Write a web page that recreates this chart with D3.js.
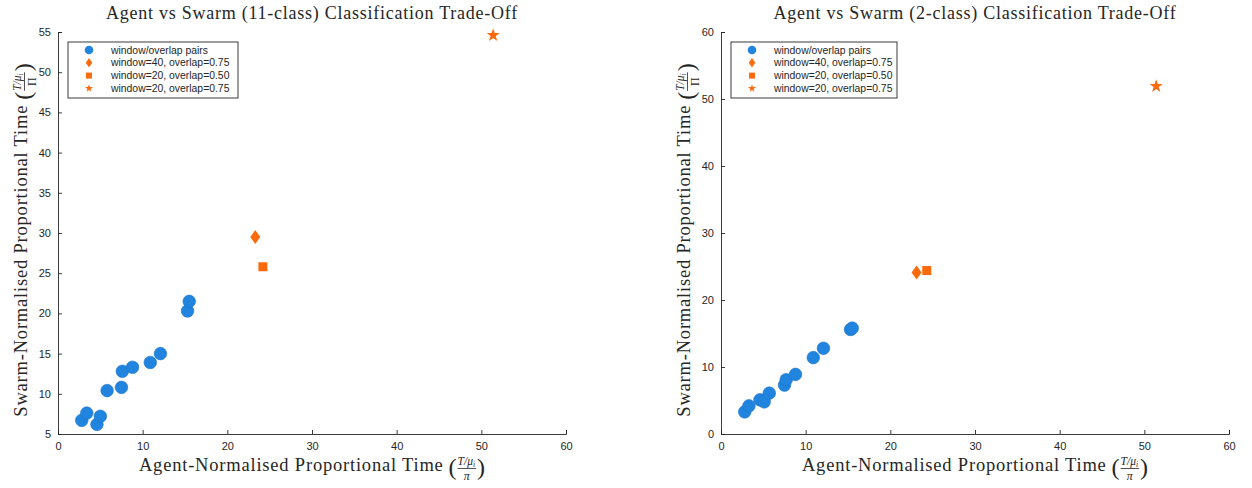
<!DOCTYPE html>
<html>
<head>
<meta charset="utf-8">
<script src="https://cdn.jsdelivr.net/npm/d3@7"></script>
<style>
  body { margin: 0; background: #fff; }
  svg { display: block; }
</style>
</head>
<body>
<svg id="chart" width="1252" height="488"></svg>
<script>
// ---- data ----
const xTicks = [0, 10, 20, 30, 40, 50, 60];
const yTicks11 = [5, 10, 15, 20, 25, 30, 35, 40, 45, 50, 55];
const yTicks2 = [0, 10, 20, 30, 40, 50, 60];

// 11-class: window/overlap pairs
const agent11 = [2.8, 3.4, 4.6, 5.0, 5.8, 7.5, 7.6, 8.8, 10.9, 12.1, 15.3, 15.5];
const swarm11 = [6.7, 7.6, 6.2, 7.2, 10.4, 10.8, 12.8, 13.3, 13.9, 15.0, 20.3, 21.5];
// 11-class: highlighted configurations (diamond, square, star)
const best11Agent = [23.3, 24.2, 51.4];
const best11Swarm = [29.5, 25.8, 54.6];

// 2-class
const agent2 = [2.8, 3.3, 4.6, 5.1, 5.7, 7.5, 7.7, 8.8, 10.9, 12.1, 15.3, 15.5];
const swarm2 = [3.3, 4.2, 5.1, 4.8, 6.1, 7.3, 8.1, 8.9, 11.4, 12.8, 15.6, 15.8];
const best2Agent = [23.1, 24.3, 51.4];
const best2Swarm = [24.1, 24.4, 51.9];

const legendLabels = ['window/overlap pairs', 'window=40, overlap=0.75',
  'window=20, overlap=0.50', 'window=20, overlap=0.75'];

const blue = '#2185e0';
const orange = '#fb6a0c';
const axisCol = '#262626';

const svg = d3.select('#chart');

// marker shapes
const diamond = (w, h) => `M0,${-h / 2}L${w / 2},0L0,${h / 2}L${-w / 2},0Z`;
const square = s => `M${-s / 2},${-s / 2}h${s}v${s}h${-s}Z`;
const star = size => d3.symbol(d3.symbolStar, size)();

// axis label: text followed by a small fraction ( T/mu_i over denom )
function fracLabel(g, txt, denom) {
  const t = g.append('text')
    .attr('font-family', 'Liberation Serif, serif')
    .attr('font-size', 18.5)
    .attr('letter-spacing', 0.8)
    .attr('fill', axisCol)
    .text(txt);
  let w = t.node().getComputedTextLength();
  const paren = (x, s) => g.append('text')
    .attr('x', x).attr('y', 4)
    .attr('font-family', 'Liberation Serif, serif')
    .attr('font-size', 24).attr('fill', axisCol)
    .text(s);
  const p1 = paren(w + 5, '(');
  w += 5 + p1.node().getComputedTextLength() + 1;
  const num = g.append('text')
    .attr('x', w).attr('y', -6)
    .attr('font-family', 'Liberation Serif, serif')
    .attr('font-size', 11.5).attr('font-style', 'italic')
    .attr('fill', axisCol);
  num.append('tspan').text('T/μ');
  num.append('tspan').attr('font-size', 7.5).attr('dy', 2).text('i');
  const nw = num.node().getComputedTextLength();
  g.append('line')
    .attr('x1', w).attr('x2', w + nw + 1)
    .attr('y1', -2.5).attr('y2', -2.5)
    .attr('stroke', axisCol).attr('stroke-width', 0.8);
  g.append('text')
    .attr('x', w + (nw + 1) / 2).attr('y', 8.5)
    .attr('text-anchor', 'middle')
    .attr('font-family', 'Liberation Serif, serif')
    .attr('font-size', 12)
    .attr('font-style', denom === 'π' ? 'italic' : 'normal')
    .attr('fill', axisCol)
    .text(denom);
  w += nw + 2;
  const p2 = paren(w, ')');
  w += p2.node().getComputedTextLength();
  return w;
}

function panel(opt) {
  const x = d3.scaleLinear().domain([0, 60]).range([opt.left, opt.left + 508]);
  const y = d3.scaleLinear().domain(opt.yDomain).range([434, 32]);
  const g = svg.append('g');

  // axes, MATLAB style: ticks inside, left + bottom only
  const xAxis = g.append('g')
    .attr('transform', 'translate(0,434)')
    .call(d3.axisBottom(x).tickValues(xTicks).tickSizeInner(-4).tickSizeOuter(-4).tickPadding(8));
  const yAxis = g.append('g')
    .attr('transform', `translate(${opt.left},0)`)
    .call(d3.axisLeft(y).tickValues(opt.yTicks).tickSizeInner(-4).tickSizeOuter(-4).tickPadding(7));
  [xAxis, yAxis].forEach(a => {
    a.selectAll('path, line').attr('stroke', axisCol).attr('stroke-width', 0.9);
    a.selectAll('text')
      .attr('font-family', 'Liberation Sans, Arial, sans-serif')
      .attr('font-size', 11).attr('fill', axisCol);
  });

  // points
  g.selectAll('circle.pair')
    .data(d3.zip(opt.ax, opt.sw))
    .join('circle')
    .attr('class', 'pair')
    .attr('cx', d => x(d[0])).attr('cy', d => y(d[1]))
    .attr('r', 6.3)
    .attr('fill', blue).attr('stroke', '#1c74c6').attr('stroke-width', 0.6);

  const shapes = [diamond(10, 14), square(9), star(55)];
  g.selectAll('path.best')
    .data(d3.zip(opt.bx, opt.by))
    .join('path')
    .attr('class', 'best')
    .attr('d', (d, i) => shapes[i])
    .attr('transform', d => `translate(${x(d[0])},${y(d[1])})`)
    .attr('fill', orange);

  // title
  g.append('text')
    .attr('x', opt.left + 254).attr('y', 19)
    .attr('text-anchor', 'middle')
    .attr('font-family', 'Liberation Serif, serif')
    .attr('font-size', 18)
    .attr('letter-spacing', 0.75)
    .attr('fill', axisCol)
    .text(opt.title);

  // x label
  const xl = g.append('g');
  const xw = fracLabel(xl, 'Agent-Normalised Proportional Time', 'π');
  xl.attr('transform', `translate(${opt.left + 254 - xw / 2},471)`);

  // y label
  const yl = g.append('g');
  const yw = fracLabel(yl, 'Swarm-Normalised Proportional Time', 'Π');
  yl.attr('transform', `translate(${opt.left - 31},${240 + yw / 2}) rotate(-90)`);

  // legend
  const lg = g.append('g').attr('transform', `translate(${opt.left + 10},42)`);
  lg.append('rect')
    .attr('width', opt.legW).attr('height', 56)
    .attr('fill', '#fff').attr('stroke', axisCol).attr('stroke-width', 0.9);
  const legShapes = [null, diamond(6.5, 9.5), square(6), star(20)];
  legendLabels.forEach((lab, i) => {
    const ly = 8 + i * 12.8;
    if (i === 0) {
      lg.append('circle').attr('cx', 21).attr('cy', ly).attr('r', 4.3).attr('fill', blue);
    } else {
      lg.append('path').attr('d', legShapes[i])
        .attr('transform', `translate(21,${ly})`).attr('fill', orange);
    }
    lg.append('text')
      .attr('x', 43).attr('y', ly + 3.6)
      .attr('font-family', 'Liberation Sans, Arial, sans-serif')
      .attr('font-size', 10.4).attr('fill', axisCol)
      .text(lab);
  });
}

panel({
  left: 58, yDomain: [5, 55], yTicks: yTicks11, legW: 170,
  ax: agent11, sw: swarm11, bx: best11Agent, by: best11Swarm,
  title: 'Agent vs Swarm (11-class) Classification Trade-Off'
});
panel({
  left: 721, yDomain: [0, 60], yTicks: yTicks2, legW: 166,
  ax: agent2, sw: swarm2, bx: best2Agent, by: best2Swarm,
  title: 'Agent vs Swarm (2-class) Classification Trade-Off'
});
</script>
</body>
</html>
